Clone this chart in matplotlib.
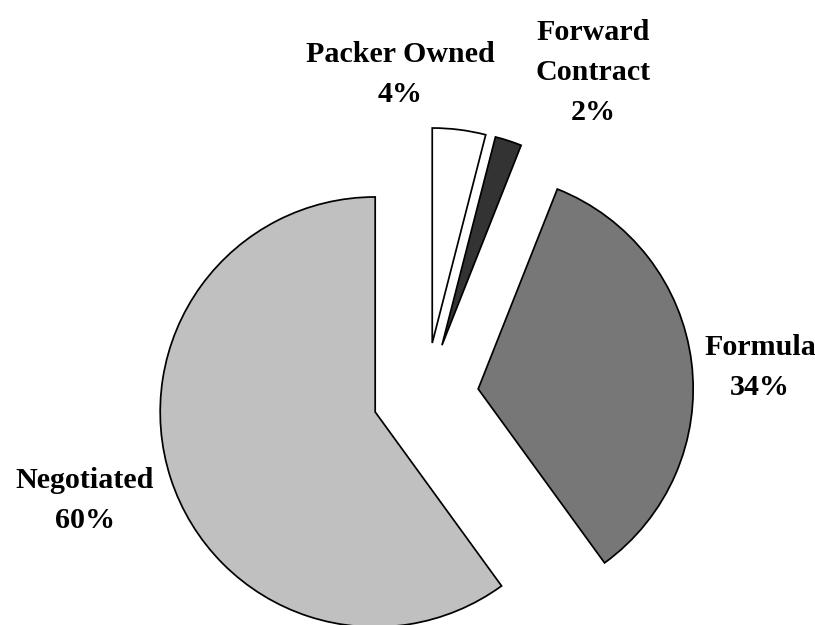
import matplotlib.pyplot as plt

labels = ['Negotiated', 'Formula', 'Forward\nContract', 'Packer Owned']
shares = [60, 34, 2, 4]

colors = ['#c0c0c0', 'white', '#333333', 'white']
hatches = [None, '++++++++', None, None]
# last-line baseline of each label, in pixels from the top-left of the image
label_xy = [(85, 528), (760, 395), (593, 120), (400, 102)]

W, H = 815, 625
DPI = 96  # 48 hatch lines per inch -> exactly 2 px period
plt.rcParams['hatch.linewidth'] = 0.4

fig = plt.figure(figsize=(W / DPI, H / DPI), dpi=DPI)
ax = fig.add_axes([0, 0, 1, 1])

# explode is in data units (pixels here)
wedges, _ = ax.pie(shares, startangle=90, counterclock=True,
                   colors=colors, explode=[53] * len(shares),
                   center=(425.6, H - 395.6), radius=215,
                   wedgeprops=dict(edgecolor='black', linewidth=1.3))
for w, h in zip(wedges, hatches):
    if h:
        w.set_hatch(h)

for lab, val, (x, y) in zip(labels, shares, label_xy):
    ax.text(x, H - y, f'{lab}\n{val}%', ha='center', va='baseline',
            family='Liberation Serif', fontweight='bold', fontsize=22.5,
            linespacing=1.62)

ax.set_xlim(0, W)
ax.set_ylim(0, H)
ax.set_aspect('equal')
ax.axis('off')

fig.savefig('out.png', dpi=DPI)
